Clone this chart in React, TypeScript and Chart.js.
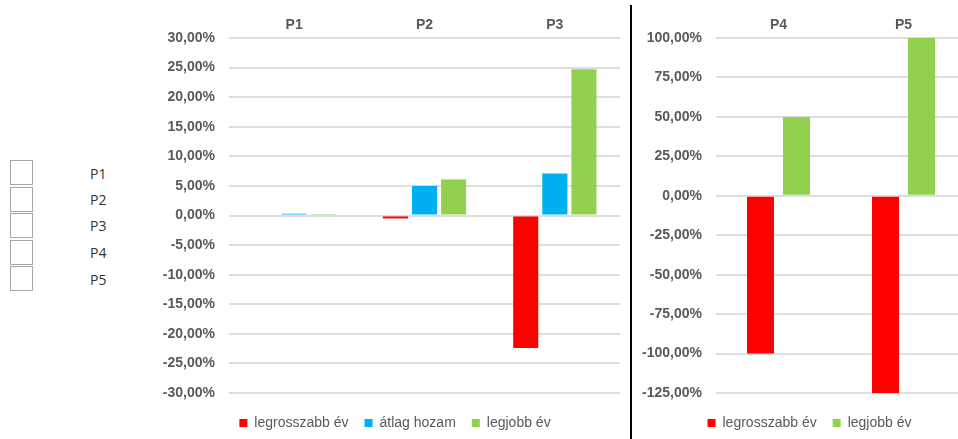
import React, { useEffect, useRef } from "react";
import { Chart, registerables } from "chart.js";

Chart.register(...registerables);

const categoriesA = ["P1", "P2", "P3"];
const worstA = [0, -0.5, -22.4];
const avgA = [0.3, 5.0, 7.1];
const bestA = [0.25, 6.1, 24.7];

const categoriesB = ["P4", "P5"];
const worstB = [-100, -125];
const bestB = [50, 100];

const sideLabels = ["P1", "P2", "P3", "P4", "P5"];

const seriesNames = ["legrosszabb év", "átlag hozam", "legjobb év"];
const RED = "#ff0000";
const BLUE = "#00b0f0";
const GREEN = "#92d050";
const TEXT = "#595959";
const GRID = "#dedede";
const FONT = "'Liberation Sans', Arial, sans-serif";

const fmt = (v: number) => {
  const n = Math.abs(v) < 1e-9 ? 0 : v;
  return n.toFixed(2).replace(".", ",") + "%";
};

const legendTweak = (dx: number, dy: number, height: number) => ({
  id: "legendTweak",
  beforeLayout(chart: any) {
    const lg: any = chart.legend;
    if (lg && !lg.__fitWrapped) {
      const f = lg.fit.bind(lg);
      lg.fit = function () {
        f();
        this.height = height;
      };
      lg.__fitWrapped = true;
    }
  },
  afterLayout(chart: any) {
    const lg: any = chart.legend;
    if (lg && !lg.__shifted) {
      const orig = lg.draw.bind(lg);
      lg.draw = function (...args: any[]) {
        const ctx = chart.ctx;
        ctx.save();
        ctx.translate(dx, dy);
        orig(...args);
        ctx.restore();
      };
      lg.__shifted = true;
    }
  },
});

function makeOptions(min: number, max: number, step: number, yWidth: number, padRight: number) {
  return {
    responsive: false,
    animation: false as const,
    layout: { padding: { top: 0, right: padRight, bottom: 0, left: 0 } },
    plugins: {
      legend: {
        position: "bottom" as const,
        labels: {
          boxWidth: 8,
          boxHeight: 8,
          padding: 16,
          color: TEXT,
          font: { family: FONT, size: 14 },
        },
      },
      tooltip: { enabled: false },
    },
    scales: {
      x: {
        position: "top" as const,
        grid: { display: false, drawTicks: false },
        border: { display: false },
        ticks: {
          color: TEXT,
          padding: 4,
          font: { family: FONT, size: 14, weight: "bold" as const },
        },
        afterFit: (s: any) => {
          s.height = 38;
        },
      },
      y: {
        min,
        max,
        grid: { color: GRID, lineWidth: 2, drawTicks: false },
        border: { display: false },
        ticks: {
          stepSize: step,
          color: TEXT,
          padding: 14,
          font: { family: FONT, size: 14, weight: "bold" as const },
          callback: (v: any) => fmt(Number(v)),
        },
        afterFit: (s: any) => {
          s.width = yWidth;
        },
      },
    },
  };
}

function LeftChart() {
  const ref = useRef<HTMLCanvasElement>(null);
  useEffect(() => {
    const ds = (label: string, data: number[], color: string) => ({
      label,
      data,
      backgroundColor: color,
      categoryPercentage: 0.67,
      barPercentage: 0.862,
    });
    const chart = new Chart(ref.current!, {
      type: "bar",
      data: {
        labels: categoriesA,
        datasets: [
          ds(seriesNames[0], worstA, RED),
          ds(seriesNames[1], avgA, BLUE),
          ds(seriesNames[2], bestA, GREEN),
        ],
      },
      options: makeOptions(-30, 30, 5, 79, 25) as any,
      plugins: [legendTweak(10, 7, 46)],
    });
    return () => chart.destroy();
  }, []);
  return (
    <canvas
      ref={ref}
      width={495}
      height={439}
      style={{ position: "absolute", left: 150, top: 0, width: 495, height: 439 }}
    />
  );
}

function RightChart() {
  const ref = useRef<HTMLCanvasElement>(null);
  useEffect(() => {
    const ds = (label: string, data: number[], color: string) => ({
      label,
      data,
      backgroundColor: color,
      categoryPercentage: 0.576,
      barPercentage: 0.75,
    });
    const chart = new Chart(ref.current!, {
      type: "bar",
      data: {
        labels: categoriesB,
        datasets: [ds(seriesNames[0], worstB, RED), ds(seriesNames[2], bestB, GREEN)],
      },
      options: makeOptions(-125, 100, 25, 83, 21) as any,
      plugins: [legendTweak(10, 7, 46)],
    });
    return () => chart.destroy();
  }, []);
  return (
    <canvas
      ref={ref}
      width={354}
      height={439}
      style={{ position: "absolute", left: 633, top: 0, width: 354, height: 439 }}
    />
  );
}

export default function App() {
  useEffect(() => {
    document.documentElement.style.overflow = "hidden";
    document.body.style.overflow = "hidden";
  }, []);
  const boxTops = [160, 187, 213, 240, 266];
  const labelCenters = [174, 200, 226, 253, 280];
  return (
    <div
      style={{
        position: "fixed",
        left: 0,
        top: 0,
        width: 958,
        height: 439,
        overflow: "hidden",
        background: "#ffffff",
      }}
    >
      {sideLabels.map((lab, i) => (
        <React.Fragment key={lab}>
          <div
            style={{
              position: "absolute",
              left: 10,
              top: boxTops[i],
              width: 21,
              height: 23,
              border: "1px solid #a6a6a6",
              background: "#fff",
            }}
          />
          <div
            style={{
              position: "absolute",
              left: 90,
              top: labelCenters[i] - 10,
              height: 20,
              lineHeight: "20px",
              fontFamily: "'Open Sans', 'Noto Sans', sans-serif",
              fontSize: 14,
              color: "#333",
            }}
          >
            {lab}
          </div>
        </React.Fragment>
      ))}
      <LeftChart />
      <RightChart />
      <div
        style={{
          position: "absolute",
          left: 630,
          top: 5,
          width: 2,
          height: 434,
          background: "#000",
          zIndex: 2,
        }}
      />
    </div>
  );
}
